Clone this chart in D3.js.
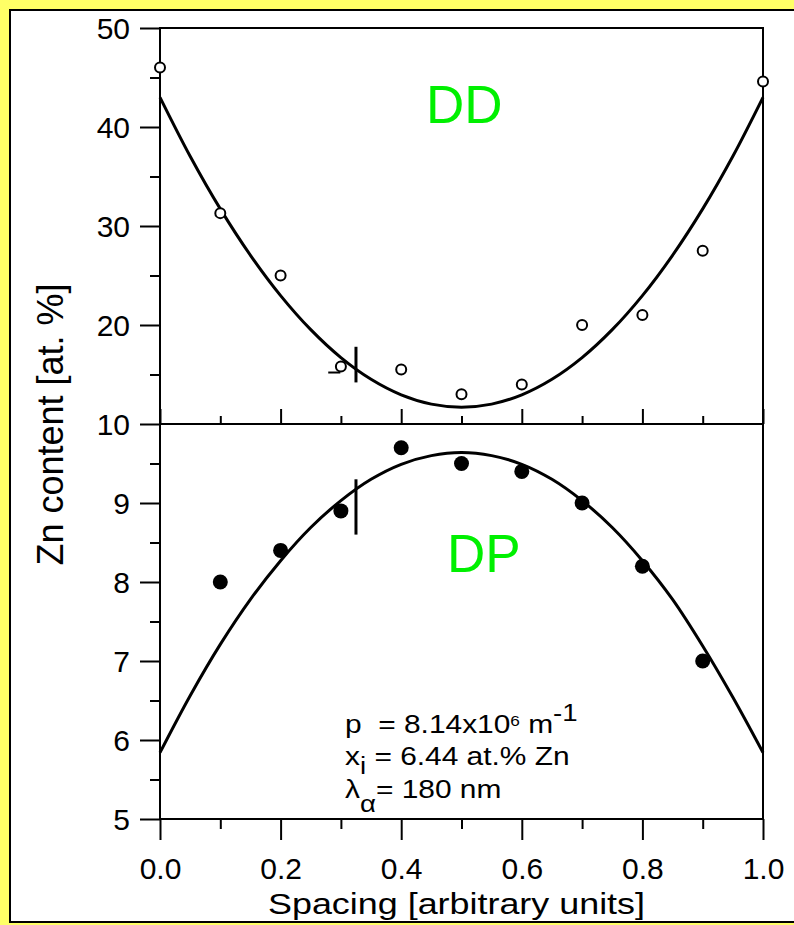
<!DOCTYPE html>
<html>
<head>
<meta charset="utf-8">
<script src="https://cdn.jsdelivr.net/npm/d3@7"></script>
<style>
  html, body { margin: 0; padding: 0; background: #ffff66; }
  svg { display: block; font-family: "Liberation Sans", Arial, Helvetica, sans-serif; }
</style>
</head>
<body>
<svg id="chart" width="794" height="925"></svg>
<script>
// ---------------- data ----------------
const xMajorTicks = [0, 0.2, 0.4, 0.6, 0.8, 1.0];
const xMinorTicks = [0.1, 0.3, 0.5, 0.7, 0.9];

const ddX  = [0, 0.1, 0.2, 0.3, 0.4, 0.5, 0.6, 0.7, 0.8, 0.9, 1.0];
const ddZn = [46.0, 31.3, 25.0, 15.8, 15.5, 13.0, 14.0, 20.0, 21.0, 27.5, 44.6];

const dpX  = [0.1, 0.2, 0.3, 0.4, 0.5, 0.6, 0.7, 0.8, 0.9];
const dpZn = [8.0, 8.4, 8.9, 9.7, 9.5, 9.4, 9.0, 8.2, 7.0];

const fitX  = [0, 0.05, 0.1, 0.15, 0.2, 0.25, 0.3, 0.35, 0.4, 0.45, 0.5,
               0.55, 0.6, 0.65, 0.7, 0.75, 0.8, 0.85, 0.9, 0.95, 1.0];
const ddFit = [43.0, 37.05, 31.73, 27.04, 22.97, 19.53, 16.71, 14.52, 12.95, 12.01, 11.7,
               12.01, 12.95, 14.52, 16.71, 19.53, 22.97, 27.04, 31.73, 37.05, 43.0];
const dpFit = [5.84, 6.56, 7.21, 7.78, 8.27, 8.69, 9.03, 9.30, 9.49, 9.60, 9.64,
               9.60, 9.49, 9.30, 9.03, 8.69, 8.27, 7.78, 7.19, 6.54, 5.84];

const ddMajorTicks = [10, 20, 30, 40, 50];
const ddMinorTicks = [15, 25, 35, 45];
const dpMajorTicks = [5, 6, 7, 8, 9];
const dpMinorTicks = [5.5, 6.5, 7.5, 8.5, 9.5];

const markX = 0.325;
const ddMark = [14.2, 17.8];
const dpMark = [8.6, 9.3];
const ddStub = {x0: 0.279, x1: 0.299, y: 15.2};

const xTitle = "Spacing [arbitrary units]";
const yTitle = "Zn content [at. %]";

// ---------------- drawing ----------------
const svg = d3.select("#chart");

svg.append("rect").attr("x", 0).attr("y", 0).attr("width", 794).attr("height", 925).attr("fill", "#ffff66");
svg.append("rect").attr("x", 10).attr("y", 10).attr("width", 800).attr("height", 912)
   .attr("fill", "#ffffff").attr("stroke", "#000").attr("stroke-width", 2);

const x = d3.scaleLinear().domain([0, 1]).range([160, 763]);
const yTop = d3.scaleLinear().domain([10, 50]).range([424, 28]);
const yBot = d3.scaleLinear().domain([5, 10]).range([819, 424]);

function styleAxis(g, fs) {
  g.select(".domain").remove();
  g.selectAll(".tick line").attr("stroke", "#000").attr("stroke-width", 2);
  g.selectAll(".tick text").attr("fill", "#000").attr("font-size", fs)
    .attr("font-family", "Liberation Sans, Arial, sans-serif");
}

// left axes (top panel)
svg.append("g").attr("transform", `translate(${x(0)},0)`)
  .call(d3.axisLeft(yTop).tickValues(ddMajorTicks).tickSize(20).tickPadding(10).tickFormat(d3.format("d")))
  .call(g => styleAxis(g, 30))
  .call(g => g.selectAll(".tick text").attr("dy", "0.36em"));
svg.append("g").attr("transform", `translate(${x(0)},0)`)
  .call(d3.axisLeft(yTop).tickValues(ddMinorTicks).tickSize(10).tickFormat(""))
  .call(g => styleAxis(g, 30));

// left axes (bottom panel)
svg.append("g").attr("transform", `translate(${x(0)},0)`)
  .call(d3.axisLeft(yBot).tickValues(dpMajorTicks).tickSize(20).tickPadding(10).tickFormat(d3.format("d")))
  .call(g => styleAxis(g, 30))
  .call(g => g.selectAll(".tick text").attr("dy", "0.36em"));
svg.append("g").attr("transform", `translate(${x(0)},0)`)
  .call(d3.axisLeft(yBot).tickValues(dpMinorTicks).tickSize(10).tickFormat(""))
  .call(g => styleAxis(g, 30));

// middle x ticks (pointing up into the top panel)
svg.append("g").attr("transform", `translate(0,${yTop(10)})`)
  .call(d3.axisTop(x).tickValues(xMajorTicks).tickSize(15).tickFormat(""))
  .call(g => styleAxis(g, 30));
svg.append("g").attr("transform", `translate(0,${yTop(10)})`)
  .call(d3.axisTop(x).tickValues(xMinorTicks).tickSize(8).tickFormat(""))
  .call(g => styleAxis(g, 30));

// bottom x axis
svg.append("g").attr("transform", `translate(0,${yBot(5)})`)
  .call(d3.axisBottom(x).tickValues(xMajorTicks).tickSize(21).tickPadding(18).tickFormat(d3.format(".1f")))
  .call(g => styleAxis(g, 30));
svg.append("g").attr("transform", `translate(0,${yBot(5)})`)
  .call(d3.axisBottom(x).tickValues(xMinorTicks).tickSize(10).tickFormat(""))
  .call(g => styleAxis(g, 30));

// frame lines
svg.append("rect").attr("x", x(0)).attr("y", yTop(50))
  .attr("width", x(1) - x(0)).attr("height", yBot(5) - yTop(50))
  .attr("fill", "none").attr("stroke", "#000").attr("stroke-width", 2);
svg.append("line").attr("x1", x(0)).attr("x2", x(1)).attr("y1", yTop(10)).attr("y2", yTop(10))
  .attr("stroke", "#000").attr("stroke-width", 2);

// fit curves
const fitTop = d3.line().x((d, i) => x(fitX[i])).y(d => yTop(d)).curve(d3.curveCatmullRom);
const fitBot = d3.line().x((d, i) => x(fitX[i])).y(d => yBot(d)).curve(d3.curveCatmullRom);
svg.append("path").attr("d", fitTop(ddFit)).attr("fill", "none").attr("stroke", "#000").attr("stroke-width", 3);
svg.append("path").attr("d", fitBot(dpFit)).attr("fill", "none").attr("stroke", "#000").attr("stroke-width", 3);

// markers
svg.append("line").attr("x1", x(markX)).attr("x2", x(markX)).attr("y1", yTop(ddMark[0])).attr("y2", yTop(ddMark[1]))
  .attr("stroke", "#000").attr("stroke-width", 3);
svg.append("line").attr("x1", x(markX)).attr("x2", x(markX)).attr("y1", yBot(dpMark[0])).attr("y2", yBot(dpMark[1]))
  .attr("stroke", "#000").attr("stroke-width", 3);
svg.append("line").attr("x1", x(ddStub.x0)).attr("x2", x(ddStub.x1)).attr("y1", yTop(ddStub.y)).attr("y2", yTop(ddStub.y))
  .attr("stroke", "#000").attr("stroke-width", 2);

// data points
svg.append("g").selectAll("circle").data(ddZn).join("circle")
  .attr("cx", (d, i) => x(ddX[i])).attr("cy", d => yTop(d)).attr("r", 5)
  .attr("fill", "#fff").attr("stroke", "#000").attr("stroke-width", 2);
svg.append("g").selectAll("circle").data(dpZn).join("circle")
  .attr("cx", (d, i) => x(dpX[i])).attr("cy", d => yBot(d)).attr("r", 7.5)
  .attr("fill", "#000");

// panel labels
svg.append("text").attr("x", 426).attr("y", 123).attr("font-size", 53).attr("fill", "#00f000").text("DD");
svg.append("text").attr("x", 447).attr("y", 572).attr("font-size", 53).attr("fill", "#00f000").text("DP");

// annotation
const ann = svg.append("g").attr("font-size", 26).attr("fill", "#000");
const l1 = ann.append("text").attr("transform", "translate(345,733) scale(1.15,1)");
l1.append("tspan").text("p\u00a0\u00a0=\u00a08.14x10");
l1.append("tspan").attr("font-size", 15).attr("dy", -7).text("6");
l1.append("tspan").attr("dy", 7).text("\u00a0m");
l1.append("tspan").attr("font-size", 24).attr("dy", -12).text("-1");
const l2 = ann.append("text").attr("transform", "translate(345,765) scale(1.15,1)");
l2.append("tspan").text("x");
l2.append("tspan").attr("font-size", 24).attr("dy", 9).text("i");
l2.append("tspan").attr("dy", -9).text("\u00a0= 6.44 at.% Zn");
const l3 = ann.append("text").attr("transform", "translate(345,798) scale(1.15,1)");
l3.append("tspan").text("λ");
l3.append("tspan").attr("font-size", 24).attr("dy", 14).text("α");
l3.append("tspan").attr("dy", -14).text("= 180 nm");

// axis titles
svg.append("text").attr("x", 456.5).attr("y", 914).attr("text-anchor", "middle")
  .attr("font-size", 30).attr("textLength", 377).attr("lengthAdjust", "spacingAndGlyphs").text(xTitle);
svg.append("text").attr("transform", "translate(63,424.5) rotate(-90)").attr("text-anchor", "middle")
  .attr("font-size", 36).text(yTitle);
</script>
</body>
</html>
